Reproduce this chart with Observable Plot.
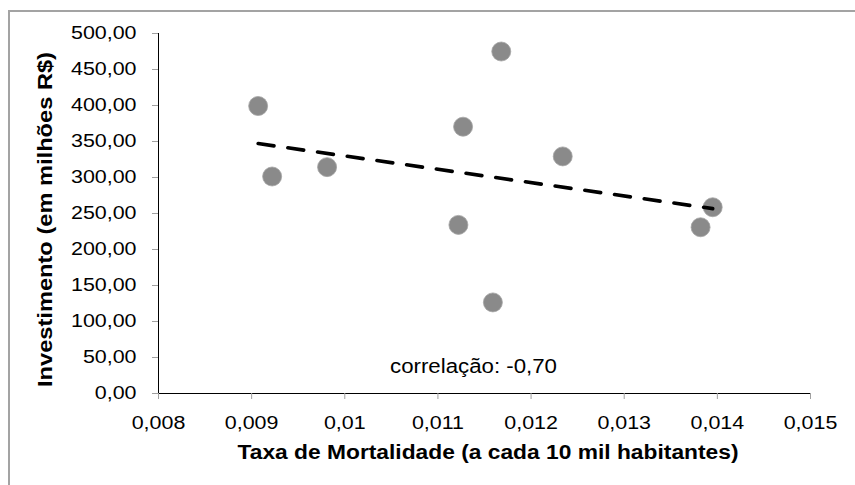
<!DOCTYPE html>
<html>
<head>
<meta charset="utf-8">
<script src="https://cdn.jsdelivr.net/npm/d3@7"></script>
<script src="https://cdn.jsdelivr.net/npm/@observablehq/plot@0.6"></script>
<style>
  html, body { margin: 0; padding: 0; background: #fff; }
  #wrap { position: relative; width: 855px; height: 485px; overflow: hidden; }
  #frame { position: absolute; left: 8px; top: 10px; width: 847px; height: 475px;
           border-top: 2px solid #a3a3a3; border-left: 2px solid #a3a3a3; box-sizing: border-box; }
  #chart { position: absolute; left: 0; top: 0; }
  #chart svg g[aria-label$="tick"] path,
  #chart svg g[aria-label$="tick"] line,
  #chart svg g[aria-label$="-axis"] path,
  #chart svg g[aria-label$="-axis"] line { stroke: #a0a0a0; }
</style>
</head>
<body>
<div id="wrap"><div id="frame"></div><div id="chart"></div></div>
<script>
// Data
const mortalidade  = [0.00907, 0.00922, 0.00981, 0.01122, 0.01127, 0.01159, 0.01168, 0.01234, 0.01382, 0.01395];
const investimento = [399.3, 301.4, 314.4, 234.2, 370.6, 126.5, 475.0, 329.3, 230.9, 258.7];
const xTicks = [0.008, 0.009, 0.010, 0.011, 0.012, 0.013, 0.014, 0.015];
const yTicks = [0, 50, 100, 150, 200, 250, 300, 350, 400, 450, 500];
const xTitle = "Taxa de Mortalidade (a cada 10 mil habitantes)";
const yTitle = "Investimento (em milhões R$)";
const note = "correlação: -0,70";

const data = mortalidade.map((m, i) => ({m, inv: investimento[i]}));
const fmtX = d => String(+d.toFixed(3)).replace(".", ",");
const fmtY = d => d3.format(".2f")(d).replace(".", ",");

const chart = Plot.plot({
  width: 855, height: 485,
  marginLeft: 158, marginRight: 45, marginTop: 33, marginBottom: 92,
  style: {fontFamily: "'Liberation Sans', Arial, sans-serif", fontSize: "18px", color: "#000", background: "transparent"},
  x: {domain: [xTicks[0], xTicks[xTicks.length - 1]], ticks: xTicks, tickFormat: fmtX,
      tickSize: 6, tickPadding: 17, line: true, label: null},
  y: {domain: [yTicks[0], yTicks[yTicks.length - 1]], ticks: yTicks, tickFormat: fmtY,
      tickSize: 6, tickPadding: 16, line: true, label: null},
  marks: [
    Plot.dot(data, {x: "m", y: "inv", r: 9.5, fill: "#8a8a8a", stroke: "#a5a5a5", strokeWidth: 0.8}),
    Plot.linearRegressionY(data, {x: "m", y: "inv", ci: 0, stroke: "#000", strokeWidth: 3.6,
      strokeDasharray: "16,14"}),
    Plot.text([note], {text: d => d, frameAnchor: "bottom", textAnchor: "middle", lineAnchor: "middle",
      dx: -11, dy: -27, fontSize: 20, fill: "#000"}),
    Plot.text([xTitle], {text: d => d, frameAnchor: "bottom", textAnchor: "middle", lineAnchor: "middle",
      dx: 3.5, dy: 59.5, fontSize: 19.5, fontWeight: "bold", fill: "#000"}),
    Plot.text([yTitle], {text: d => d, frameAnchor: "left", textAnchor: "middle", lineAnchor: "middle",
      dx: -113, dy: 6, rotate: -90, fontSize: 19.5, fontWeight: "bold", fill: "#000"})
  ]
});
document.getElementById("chart").appendChild(chart);

// widen glyphs horizontally to match the reference's wider typeface
d3.select(chart).selectAll("text").each(function() {
  const t = this.textContent;
  let len;
  const nat = this.getComputedTextLength();
  if (t === xTitle) len = 501;
  else if (t === yTitle) len = 335;
  else if (t === note) len = 167;
  else len = nat * 1.19;
  if (nat > 0) {
    this.setAttribute("textLength", len);
    this.setAttribute("lengthAdjust", "spacingAndGlyphs");
  }
});
</script>
</body>
</html>
